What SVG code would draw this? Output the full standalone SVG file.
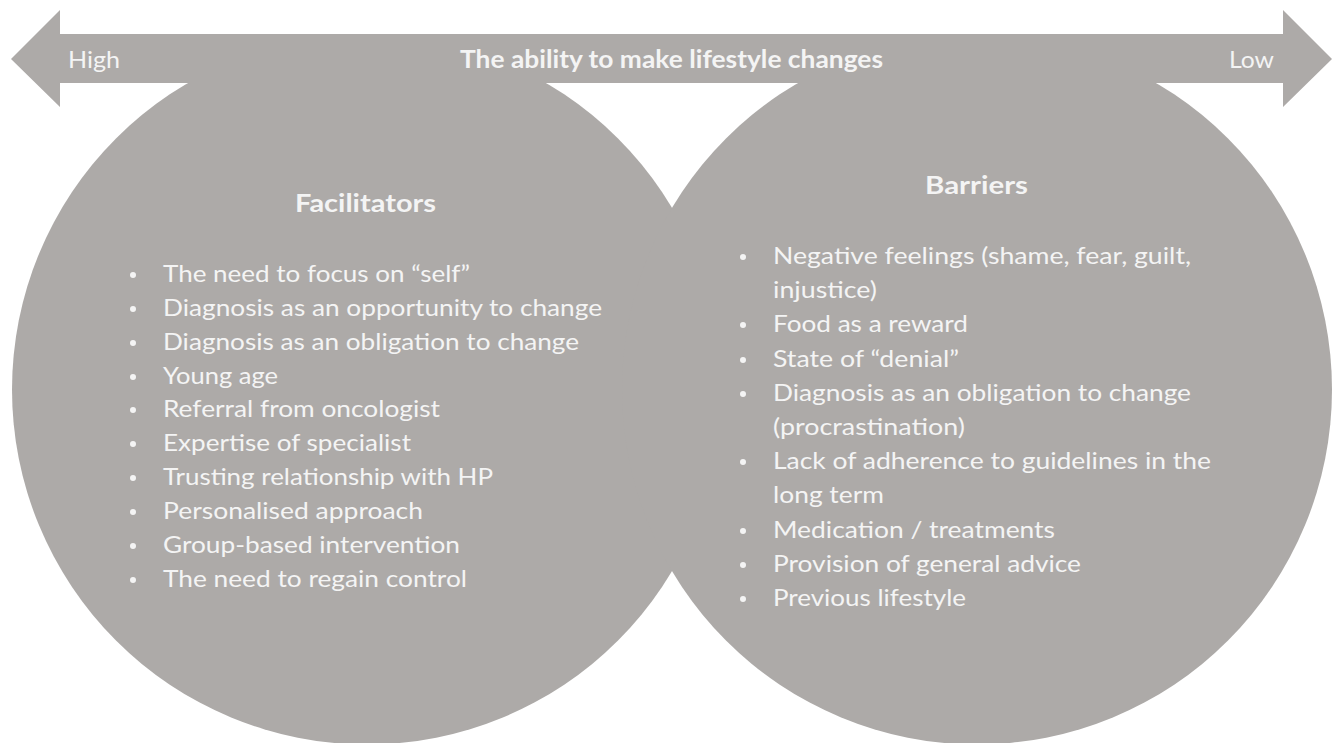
<svg xmlns="http://www.w3.org/2000/svg" width="1336" height="743" viewBox="0 0 1336 743">
<style>
.shape{fill:#adaaa8;}
.t{font-family:Lato,"Open Sans","Liberation Sans",sans-serif;fill:#f4f4f4;font-size:23px;}
.b{font-weight:bold;font-size:25px;}
.dot{fill:#f4f4f4;}
</style>
<rect width="1336" height="743" fill="#ffffff"/>
<g id="facilitators">
<circle class="shape" cx="367" cy="389.5" r="355"/>
<text class="t b" x="295" y="212" textLength="141" lengthAdjust="spacingAndGlyphs">Facilitators</text>
<g class="dots">
<circle class="dot" cx="133" cy="275" r="3"/>
<circle class="dot" cx="133" cy="309" r="3"/>
<circle class="dot" cx="133" cy="343" r="3"/>
<circle class="dot" cx="133" cy="377" r="3"/>
<circle class="dot" cx="133" cy="410" r="3"/>
<circle class="dot" cx="133" cy="444" r="3"/>
<circle class="dot" cx="133" cy="478" r="3"/>
<circle class="dot" cx="133" cy="512" r="3"/>
<circle class="dot" cx="133" cy="546" r="3"/>
<circle class="dot" cx="133" cy="580" r="3"/>
</g>
<text class="t" x="163" y="282" textLength="307" lengthAdjust="spacingAndGlyphs">The need to focus on “self”</text>
<text class="t" x="163" y="316" textLength="439" lengthAdjust="spacingAndGlyphs">Diagnosis as an opportunity to change</text>
<text class="t" x="163" y="350" textLength="416" lengthAdjust="spacingAndGlyphs">Diagnosis as an obligation to change</text>
<text class="t" x="163" y="384" textLength="115" lengthAdjust="spacingAndGlyphs">Young age</text>
<text class="t" x="163" y="417" textLength="277" lengthAdjust="spacingAndGlyphs">Referral from oncologist</text>
<text class="t" x="163" y="451" textLength="248" lengthAdjust="spacingAndGlyphs">Expertise of specialist</text>
<text class="t" x="163" y="485" textLength="330" lengthAdjust="spacingAndGlyphs">Trusting relationship with HP</text>
<text class="t" x="163" y="519" textLength="260" lengthAdjust="spacingAndGlyphs">Personalised approach</text>
<text class="t" x="163" y="553" textLength="297" lengthAdjust="spacingAndGlyphs">Group-based intervention</text>
<text class="t" x="163" y="587" textLength="304" lengthAdjust="spacingAndGlyphs">The need to regain control</text>
</g>
<g id="barriers">
<circle class="shape" cx="977" cy="389.5" r="355"/>
<text class="t b" x="925" y="194" textLength="103" lengthAdjust="spacingAndGlyphs">Barriers</text>
<g class="dots">
<circle class="dot" cx="743" cy="257" r="3"/>
<circle class="dot" cx="743" cy="325" r="3"/>
<circle class="dot" cx="743" cy="360" r="3"/>
<circle class="dot" cx="743" cy="394" r="3"/>
<circle class="dot" cx="743" cy="462" r="3"/>
<circle class="dot" cx="743" cy="531" r="3"/>
<circle class="dot" cx="743" cy="565" r="3"/>
<circle class="dot" cx="743" cy="599" r="3"/>
</g>
<text class="t" x="773" y="264" textLength="418" lengthAdjust="spacingAndGlyphs">Negative feelings (shame, fear, guilt,</text>
<text class="t" x="773" y="298" textLength="104" lengthAdjust="spacingAndGlyphs">injustice)</text>
<text class="t" x="773" y="332" textLength="195" lengthAdjust="spacingAndGlyphs">Food as a reward</text>
<text class="t" x="773" y="367" textLength="186" lengthAdjust="spacingAndGlyphs">State of “denial”</text>
<text class="t" x="773" y="401" textLength="418" lengthAdjust="spacingAndGlyphs">Diagnosis as an obligation to change</text>
<text class="t" x="773" y="435" textLength="192" lengthAdjust="spacingAndGlyphs">(procrastination)</text>
<text class="t" x="773" y="469" textLength="438" lengthAdjust="spacingAndGlyphs">Lack of adherence to guidelines in the</text>
<text class="t" x="773" y="503" textLength="111" lengthAdjust="spacingAndGlyphs">long term</text>
<text class="t" x="773" y="538" textLength="282" lengthAdjust="spacingAndGlyphs">Medication / treatments</text>
<text class="t" x="773" y="572" textLength="308" lengthAdjust="spacingAndGlyphs">Provision of general advice</text>
<text class="t" x="773" y="606" textLength="193" lengthAdjust="spacingAndGlyphs">Previous lifestyle</text>
</g>
<g id="scale-arrow">
<polygon class="shape" points="11,59 60,10 60,34 1283,34 1283,10 1332,59 1283,107 1283,83 60,83 60,107"/>
<text class="t" x="68" y="68" textLength="52" lengthAdjust="spacingAndGlyphs">High</text>
<text class="t" x="1229" y="68" textLength="45" lengthAdjust="spacingAndGlyphs">Low</text>
<text class="t b" x="460" y="68" textLength="423" lengthAdjust="spacingAndGlyphs">The ability to make lifestyle changes</text>
</g>
</svg>
